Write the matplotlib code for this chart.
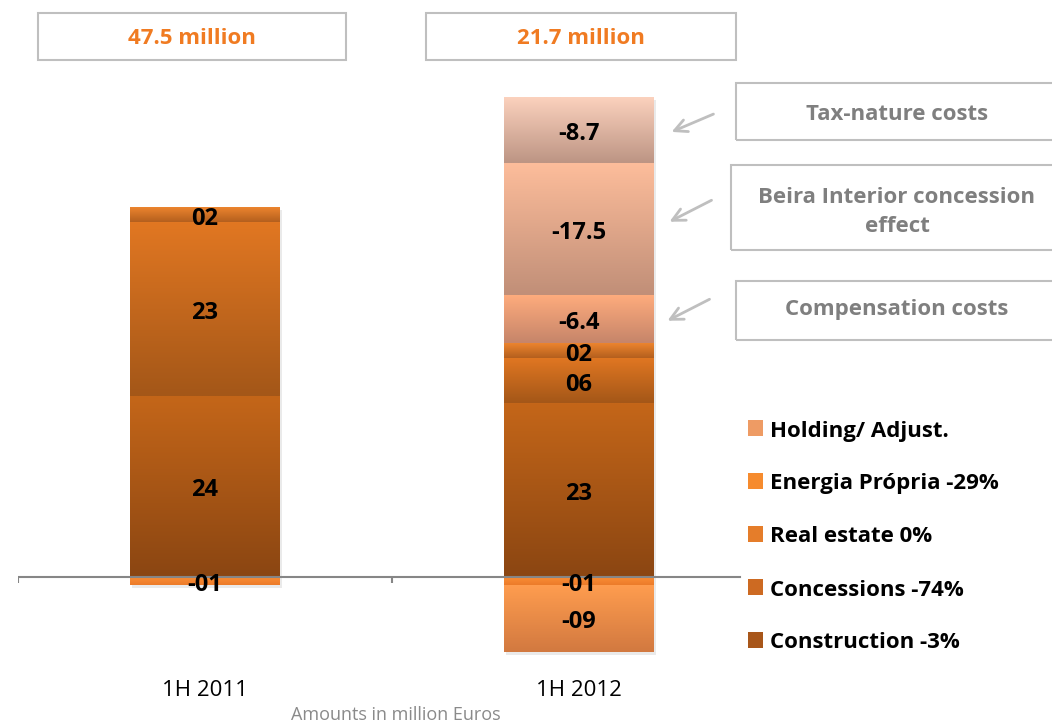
import numpy as np
import matplotlib.pyplot as plt
import matplotlib.transforms as mtransforms
from matplotlib.colors import to_rgb
from matplotlib.patches import Rectangle

plt.rcParams['font.family'] = ['Open Sans', 'DejaVu Sans']

periods = ['1H 2011', '1H 2012']
totals = ['47.5 million', '21.7 million']

# business segments, stacked outwards from the axis
construction = [24, 23]
concessions = [23, 6]
real_estate = [2, 2]
energia = [-1, -1]
holding = [0, -9]
legend_labels = ['Holding/ Adjust.', 'Energia Própria -29%', 'Real estate 0%',
                 'Concessions -74%', 'Construction -3%']

# one-off effects stacked above the 1H 2012 bar
effect_names = ['Compensation costs', 'Beira Interior concession\neffect', 'Tax-nature costs']
effect_values = [-6.4, -17.5, -8.7]

# (top, bottom) gradient colours
seg_colors = {
    'construction': ('#C46619', '#8B4612'),
    'concessions': ('#E17722', '#A45718'),
    'real_estate': ('#F0872F', '#B45F1E'),
    'energia': ('#FA8C34', '#EC7C2A'),
    'holding': ('#FF9D4F', '#D27940'),
}
effect_colors = [('#FFAC7D', '#C6856A'), ('#FDBD9B', '#C18F78'), ('#FBD1BD', '#BD9584')]
legend_colors = ['#EE9B64', '#F68B2E', '#E57D2A', '#CD6A22', '#A8561A']

W, H = 1052, 723
bar_width = 0.4

fig = plt.figure(figsize=(W / 100, H / 100), dpi=100)
ax = fig.add_axes([18 / W, 63 / H, 748 / W, 581 / H])
ax.axis('off')

shadow_tf = mtransforms.offset_copy(ax.transData, fig, x=2, y=-3, units='dots')
label_tf = mtransforms.offset_copy(ax.transData, fig, x=0, y=-4, units='dots')


def gradient_bar(x, bottom, height, colors):
    bars = ax.bar(x, height, bottom=bottom, width=bar_width, color=colors[1],
                  linewidth=0, zorder=2)
    lo, hi = sorted([bottom, bottom + height])
    t = np.linspace(0, 1, 64)[:, None]
    grad = (1 - t) * np.array(to_rgb(colors[0])) + t * np.array(to_rgb(colors[1]))
    img = ax.imshow(grad[:, None, :], extent=[x - bar_width / 2, x + bar_width / 2, lo, hi],
                    aspect='auto', origin='upper', interpolation='bilinear', zorder=2.1)
    img.set_clip_path(bars[0])


def seg_label(v):
    return ('-' if v < 0 else '') + f'{abs(v):02.0f}'


label_kw = dict(ha='center', va='center', fontsize=17, fontweight='bold', color='black',
                zorder=5, transform=label_tf)

for i in range(len(periods)):
    pos = 0.0
    neg = 0.0
    stack = [('construction', construction[i]), ('concessions', concessions[i]),
             ('real_estate', real_estate[i]), ('energia', energia[i]), ('holding', holding[i])]
    for key, v in stack:
        if v == 0:
            continue
        if v > 0:
            base = pos
            pos += v
        else:
            base = neg
            neg += v
        gradient_bar(i, base, v, seg_colors[key])
        ax.text(i, base + v / 2, seg_label(v), **label_kw)
    if i == 1:
        for v, c in zip(effect_values, effect_colors):
            gradient_bar(i, pos, abs(v), c)
            ax.text(i, pos + abs(v) / 2, f'{v:.1f}', **label_kw)
            pos += abs(v)
    # soft drop shadow behind the whole bar
    ax.add_patch(Rectangle((i - bar_width / 2, neg), bar_width, pos - neg, transform=shadow_tf,
                           facecolor='#A0A0A0', edgecolor='none', alpha=0.22, zorder=1))

# category axis at zero
ax.plot([-0.5, 1.43], [0, 0], color='#868686', lw=1.5, zorder=3)
ax.vlines([-0.5, 0.5], -0.8, 0, color='#868686', lw=1.5, zorder=3)
ax.set_xlim(-0.5, 1.5)
ax.set_ylim(-11, 66)

cat_tf = mtransforms.blended_transform_factory(ax.transData, fig.transFigure)
for i, p in enumerate(periods):
    ax.text(i, 1 - 690 / H, p, transform=cat_tf, ha='center', va='center', fontsize=16)
fig.text(396 / W, 1 - 715 / H, 'Amounts in million Euros', ha='center', va='center',
         fontsize=13, color='#8A8A8A')


def fig_box(x0, y0, x1, y1):
    fig.add_artist(Rectangle((x0 / W, 1 - y1 / H), (x1 - x0) / W, (y1 - y0) / H,
                             transform=fig.transFigure, fill=False, ec='#BFBFBF', lw=1.5))


# result totals above each bar
for (x0, x1), txt in zip([(38, 346), (426, 736)], totals):
    fig_box(x0, 13, x1, 60)
    fig.text((x0 + x1) / 2 / W, 1 - 38 / H, txt, ha='center', va='center', fontsize=16,
             fontweight='bold', color='#F07B22')

# call-outs for the one-off effects
boxes = [(736, 281, 1058, 340), (731, 165, 1058, 250), (736, 83, 1058, 140)]
text_y = [310, 212, 114]
arrows = [((712, 298), (665, 322)), ((714, 199), (667, 223)), ((716, 113), (669, 133))]
for name, (x0, y0, x1, y1), ty, (start, tip) in zip(effect_names, boxes, text_y, arrows):
    fig_box(x0, y0, x1, y1)
    fig.text(897 / W, 1 - ty / H, name, ha='center', va='center', fontsize=16,
             fontweight='bold', color='#7F7F7F', linespacing=1.45)
    ax.annotate('', xy=(tip[0], H - tip[1]), xycoords='figure pixels',
                xytext=(start[0], H - start[1]), textcoords='figure pixels',
                arrowprops=dict(arrowstyle='->,head_length=0.9,head_width=0.45',
                                color='#BFBFBF', lw=2))

# segment legend
fig.add_artist(Rectangle((742 / W, 1 - 660 / H), 300 / W, 255 / H, transform=fig.transFigure,
                         facecolor='white', edgecolor='none', zorder=4))
for k, (lab, col) in enumerate(zip(legend_labels, legend_colors)):
    cy = 428 + 53 * k
    fig.add_artist(Rectangle((748 / W, 1 - (cy + 8) / H), 15 / W, 16 / H,
                             transform=fig.transFigure, facecolor=col, edgecolor='none', zorder=5))
    fig.text(770 / W, 1 - (cy + 3) / H, lab, ha='left', va='center', fontsize=16,
             fontweight='bold', color='black', zorder=5)

fig.savefig('out.png', dpi=100)
